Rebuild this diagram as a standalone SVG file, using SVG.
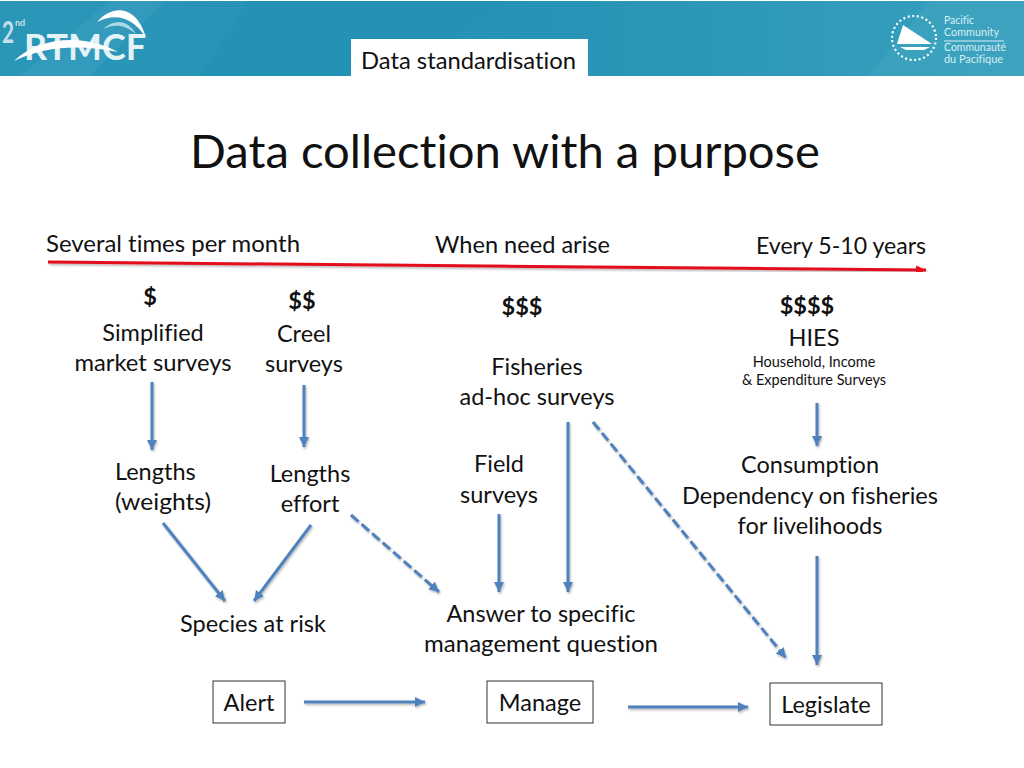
<svg xmlns="http://www.w3.org/2000/svg" width="1024" height="768" viewBox="0 0 1024 768">
<defs>
<linearGradient id="band" x1="0" y1="0" x2="1" y2="0"><stop offset="0" stop-color="#2a96b8"/><stop offset="0.5" stop-color="#2593b6"/><stop offset="1" stop-color="#37a0bd"/></linearGradient>
<marker id="blue" markerUnits="userSpaceOnUse" markerWidth="12" markerHeight="12" refX="10" refY="5" orient="auto"><path d="M0 0L10 5L0 10Z" fill="#4f81bd"/></marker>
<marker id="red" markerUnits="userSpaceOnUse" markerWidth="12" markerHeight="10" refX="10" refY="4.5" orient="auto"><path d="M0 0L10 4.5L0 9Z" fill="#e3101c"/></marker>
<filter id="sh" x="-20%" y="-20%" width="140%" height="140%"><feDropShadow dx="1" dy="1.5" stdDeviation="1" flood-color="#000" flood-opacity="0.3"/></filter>
</defs>
<style>
text{font-family:"Lato","Carlito","Open Sans",sans-serif;fill:#111;font-size:23.5px;text-anchor:middle;font-variant-ligatures:none}
.s{font-size:14.5px}
.l{text-anchor:start}
.m{font-weight:700}
.c{fill:none;stroke:#4f81bd;stroke-width:3;marker-end:url(#blue)}
.d{stroke-dasharray:10 4}
.box{fill:#fff;stroke:#333;stroke-width:1}
.logo{fill:#fff;font-weight:700}
.pc{fill:#d8eff5;font-size:10.5px;text-anchor:start}
</style>
<rect width="1024" height="768" fill="#fff"/>
<g id="banner">
<rect x="0" y="1" width="1024" height="75" fill="url(#band)"/>
<path d="M20 76L110 1H165L90 76Z" fill="#3a9fbf" opacity=".6"/>
<path d="M200 76L248 1H500L400 76Z" fill="#1f8fb3" opacity=".5"/>
<path d="M868 76L930 1H1024V76Z" fill="#4aa9c3" opacity=".35"/>
<g id="logo-rtmcf">
<text class="logo" x="8" y="43" style="font-size:31px;fill:#c9dfe6" textLength="12" lengthAdjust="spacingAndGlyphs">2</text>
<text class="logo" x="20" y="26" style="font-size:9px;fill:#c9dfe6">nd</text>
<text class="logo" x="85" y="60" style="font-size:37px;fill:#e4f2f6" textLength="122" lengthAdjust="spacingAndGlyphs">RTMCF</text>
<path d="M97 22C115 2 138 8 146 38C134 18 116 12 97 22Z" fill="#fff"/>
<path d="M103 29C115 18 128 20 136 34C124 24 114 24 103 29Z" fill="#a9d8e6"/>
<path d="M14 61C40 36 85 34 118 52C80 44 45 46 14 61Z" fill="#fff"/>
</g>
<g id="logo-pacific">
<circle cx="914" cy="38" r="22" fill="none" stroke="#fff" stroke-width="2.2" stroke-dasharray="2 2.6"/>
<path d="M897 44L903 25L932 44Z" fill="#fff"/>
<path d="M900 47H930L924 50H906Z" fill="#fff"/>
<text class="pc" x="944" y="24" textLength="30" lengthAdjust="spacingAndGlyphs">Pacific</text>
<text class="pc" x="944" y="36" textLength="55" lengthAdjust="spacingAndGlyphs">Community</text>
<rect x="944" y="40.500" width="60" height="1" fill="#d8eff5"/>
<text class="pc" x="944" y="51" textLength="62" lengthAdjust="spacingAndGlyphs">Communauté</text>
<text class="pc" x="944" y="63" textLength="59" lengthAdjust="spacingAndGlyphs">du Pacifique</text>
</g>
</g>
<g id="tab"><rect x="351" y="39" width="237" height="38" fill="#fff"/><text x="468.500" y="69" style="font-size:23.500px" textLength="215" lengthAdjust="spacingAndGlyphs">Data standardisation</text></g>
<text id="title" x="505" y="168" style="font-size:47px" textLength="630" lengthAdjust="spacingAndGlyphs">Data collection with a purpose</text>
<g id="connectors">
<path d="M48 262L926 270" fill="none" stroke="#e3101c" stroke-width="3" marker-end="url(#red)" filter="url(#sh)"/>
<g filter="url(#sh)">
<path class="c" d="M152 382V450"/>
<path class="c" d="M304 385V447"/>
<path class="c" d="M817 403V446"/>
<path class="c" d="M163 523L225 601"/>
<path class="c" d="M311 525L254 601"/>
<path class="c d" d="M351 515L439 592"/>
<path class="c" d="M499 514V592"/>
<path class="c" d="M568 422V592"/>
<path class="c d" d="M593 422L786 658"/>
<path class="c" d="M817 556V665"/>
<path class="c" d="M304 702H425"/>
<path class="c" d="M628 707H748"/>
</g>
</g>
<g id="time-labels">
<text class="l" x="46" y="252" textLength="254" lengthAdjust="spacingAndGlyphs">Several times per month</text>
<text class="l" x="435" y="253" textLength="175" lengthAdjust="spacingAndGlyphs">When need arise</text>
<text class="l" x="756" y="254" textLength="170" lengthAdjust="spacingAndGlyphs">Every 5-10 years</text>
</g>
<g id="n-simplified"><text class="m" x="150" y="305">$</text><text x="153" y="341">Simplified</text><text x="153" y="371" textLength="157" lengthAdjust="spacingAndGlyphs">market surveys</text></g>
<g id="n-creel"><text class="m" x="302" y="309">$$</text><text x="304" y="342">Creel</text><text x="304" y="372">surveys</text></g>
<g id="n-fisheries"><text class="m" x="522" y="315">$$$</text><text x="537" y="375">Fisheries</text><text x="537" y="405" textLength="155" lengthAdjust="spacingAndGlyphs">ad-hoc surveys</text></g>
<g id="n-hies"><text class="m" x="807" y="314">$$$$</text><text x="814" y="346">HIES</text><text class="s" x="814" y="367">Household, Income</text><text class="s" x="814" y="385">&amp; Expenditure Surveys</text></g>
<g id="n-lengths-weights"><text class="l" x="115" y="480">Lengths</text><text class="l" x="115" y="510" textLength="96" lengthAdjust="spacingAndGlyphs">(weights)</text></g>
<g id="n-lengths-effort"><text x="310" y="482">Lengths</text><text x="310" y="512">effort</text></g>
<g id="n-field"><text x="499" y="472">Field</text><text x="499" y="503">surveys</text></g>
<g id="n-consumption"><text x="810" y="473">Consumption</text><text x="810" y="504" textLength="256" lengthAdjust="spacingAndGlyphs">Dependency on fisheries</text><text x="810" y="534">for livelihoods</text></g>
<g id="n-species"><text x="253" y="632">Species at risk</text></g>
<g id="n-answer"><text x="541" y="622" textLength="189" lengthAdjust="spacingAndGlyphs">Answer to specific</text><text x="541" y="652" textLength="234" lengthAdjust="spacingAndGlyphs">management question</text></g>
<g id="n-alert"><rect class="box" x="213" y="681" width="72" height="42"/><text x="249" y="711">Alert</text></g>
<g id="n-manage"><rect class="box" x="487" y="681" width="106" height="42"/><text x="540" y="711">Manage</text></g>
<g id="n-legislate"><rect class="box" x="770" y="683" width="112" height="42"/><text x="826" y="713">Legislate</text></g>
</svg>
